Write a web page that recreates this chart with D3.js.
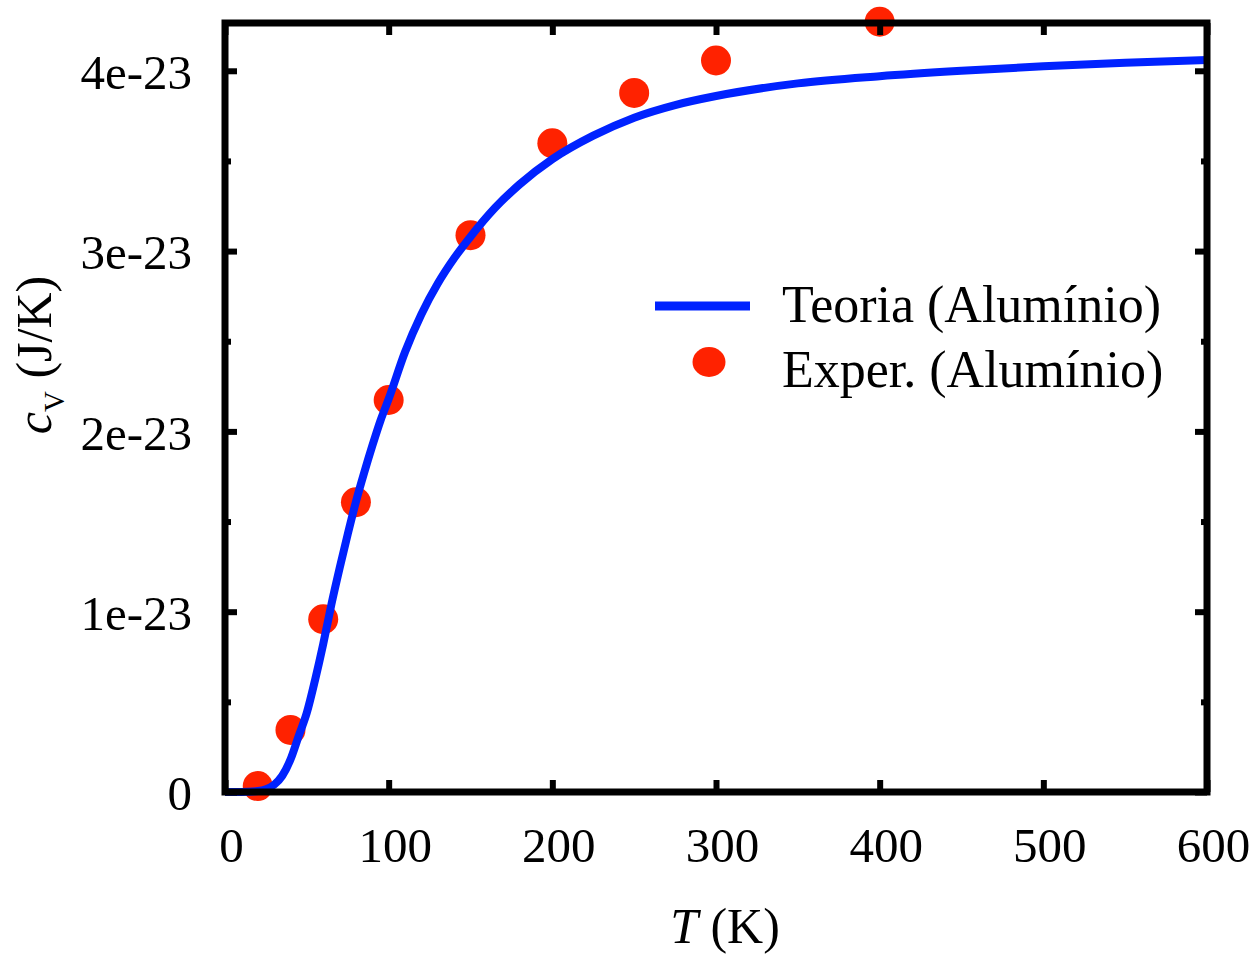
<!DOCTYPE html>
<html>
<head>
<meta charset="utf-8">
<script src="https://cdn.jsdelivr.net/npm/d3@7"></script>
<style>
  html, body { margin: 0; padding: 0; background: #fff; }
  svg { display: block; font-family: "Liberation Serif", "DejaVu Serif", serif; }
  .tick text { font-family: "Liberation Serif", "DejaVu Serif", serif; font-size: 49px; fill: #000; }
</style>
</head>
<body>
<svg id="chart"></svg>
<script>
/* Heat capacity of aluminium – Einstein model vs experiment */

// x ticks (K) and y ticks (J/K)
const xTicks = [0, 100, 200, 300, 400, 500, 600];
const yTicks = [0, 1e-23, 2e-23, 3e-23, 4e-23];
const yMinorTicks = [0.5e-23, 1.5e-23, 2.5e-23, 3.5e-23];

// theory curve
const tempTheory = [0, 10, 20, 25, 30, 35, 40, 45, 50, 55, 60, 65, 70, 75, 80, 85, 90, 95, 100,
                    110, 120, 130, 140, 150, 165, 180, 200, 225, 250, 275, 300,
                    350, 400, 450, 500, 550, 600];
const cvTheory = [0, 0, 0.005e-23, 0.015e-23, 0.04e-23, 0.09e-23, 0.18e-23, 0.31e-23, 0.44e-23,
                  0.62e-23, 0.82e-23, 1.04e-23, 1.24e-23, 1.43e-23, 1.61e-23, 1.77e-23,
                  1.92e-23, 2.06e-23, 2.18e-23,
                  2.44e-23, 2.65e-23, 2.82e-23, 2.96e-23, 3.08e-23, 3.24e-23, 3.37e-23,
                  3.51e-23, 3.64e-23, 3.74e-23, 3.81e-23, 3.86e-23,
                  3.93e-23, 3.97e-23, 4.00e-23, 4.025e-23, 4.045e-23, 4.06e-23];

// experimental points
const tempExp = [20, 40, 60, 80, 100, 150, 200, 250, 300, 400];
const cvExp = [0.033e-23, 0.344e-23, 0.958e-23, 1.607e-23, 2.174e-23,
               3.088e-23, 3.598e-23, 3.877e-23, 4.057e-23, 4.272e-23];

const legendLabels = ['Teoria (Alumínio)', 'Exper. (Alumínio)'];

const BLUE = '#0022ff';
const RED  = '#ff2200';

const W = 1253, H = 955;
const L = 225, R = 1207, T = 23, B = 792;

const svg = d3.select('#chart').attr('width', W).attr('height', H);

const x = d3.scaleLinear().domain([0, 600]).range([L, R]);
const y = d3.scaleLinear().domain([0, 4.265e-23]).range([B, T]);

const fmtY = d => d === 0 ? '0' : d.toExponential(0);

function styleAxis(g) {
  g.attr('font-family', null).attr('font-size', null);
  g.select('.domain').remove();
  g.selectAll('.tick line').attr('stroke', '#000').attr('stroke-width', 6);
}

// experimental dots (under the curve)
svg.append('g')
  .selectAll('circle')
  .data(tempExp.map((t, i) => ({ t, v: cvExp[i] })))
  .enter().append('circle')
  .attr('cx', d => x(d.t))
  .attr('cy', d => y(d.v))
  .attr('r', 15)
  .attr('fill', RED);

// theory line
const line = d3.line()
  .x(d => x(d.t))
  .y(d => y(d.v))
  .curve(d3.curveMonotoneX);

svg.append('path')
  .datum(tempTheory.map((t, i) => ({ t, v: cvTheory[i] })))
  .attr('d', line)
  .attr('fill', 'none')
  .attr('stroke', BLUE)
  .attr('stroke-width', 8);

// axes – ticks pointing inwards
svg.append('g')
  .attr('transform', `translate(0,${B})`)
  .call(d3.axisBottom(x).tickValues(xTicks).tickSize(-12).tickPadding(35).tickFormat(d3.format('d')))
  .call(styleAxis)
  .call(g => g.selectAll('.tick text').attr('dx', 6));

svg.append('g')
  .attr('transform', `translate(0,${T})`)
  .call(d3.axisTop(x).tickValues(xTicks).tickSize(-12).tickFormat(''))
  .call(styleAxis);

svg.append('g')
  .attr('transform', `translate(${L},0)`)
  .call(d3.axisLeft(y).tickValues(yTicks).tickSize(-12).tickPadding(33).tickFormat(fmtY))
  .call(styleAxis)
  .call(g => g.selectAll('.tick text').attr('dy', '0.36em'));

svg.append('g')
  .attr('transform', `translate(${R},0)`)
  .call(d3.axisRight(y).tickValues(yTicks).tickSize(-12).tickFormat(''))
  .call(styleAxis);

// minor ticks on both y sides
svg.append('g')
  .attr('transform', `translate(${L},0)`)
  .call(d3.axisLeft(y).tickValues(yMinorTicks).tickSize(-6).tickFormat(''))
  .call(styleAxis);

svg.append('g')
  .attr('transform', `translate(${R},0)`)
  .call(d3.axisRight(y).tickValues(yMinorTicks).tickSize(-6).tickFormat(''))
  .call(styleAxis);

// frame on top of everything
svg.append('rect')
  .attr('x', L).attr('y', T)
  .attr('width', R - L).attr('height', B - T)
  .attr('fill', 'none')
  .attr('stroke', '#000')
  .attr('stroke-width', 7);

// axis titles
const xt = svg.append('text')
  .attr('x', 725).attr('y', 943)
  .attr('text-anchor', 'middle')
  .attr('font-size', 50);
xt.append('tspan').attr('font-style', 'italic').text('T');
xt.append('tspan').text(' (K)');

const yt = svg.append('text')
  .attr('transform', 'translate(51,355) rotate(-90)')
  .attr('text-anchor', 'middle')
  .attr('font-size', 50);
yt.append('tspan').attr('font-style', 'italic').text('c');
yt.append('tspan').attr('font-size', 29).attr('dy', 13).text('V');
yt.append('tspan').attr('dy', -13).text(' (J/K)');

// legend
const lg = svg.append('g');
lg.append('line')
  .attr('x1', 655).attr('x2', 750)
  .attr('y1', 306).attr('y2', 306)
  .attr('stroke', BLUE).attr('stroke-width', 9);
lg.append('ellipse')
  .attr('cx', 709).attr('cy', 362)
  .attr('rx', 16.5).attr('ry', 15)
  .attr('fill', RED);
lg.selectAll('text.lbl')
  .data(legendLabels)
  .enter().append('text')
  .attr('class', 'lbl')
  .attr('x', 782)
  .attr('y', (d, i) => 322 + i * 65)
  .attr('font-size', 52)
  .text(d => d);
</script>
</body>
</html>
